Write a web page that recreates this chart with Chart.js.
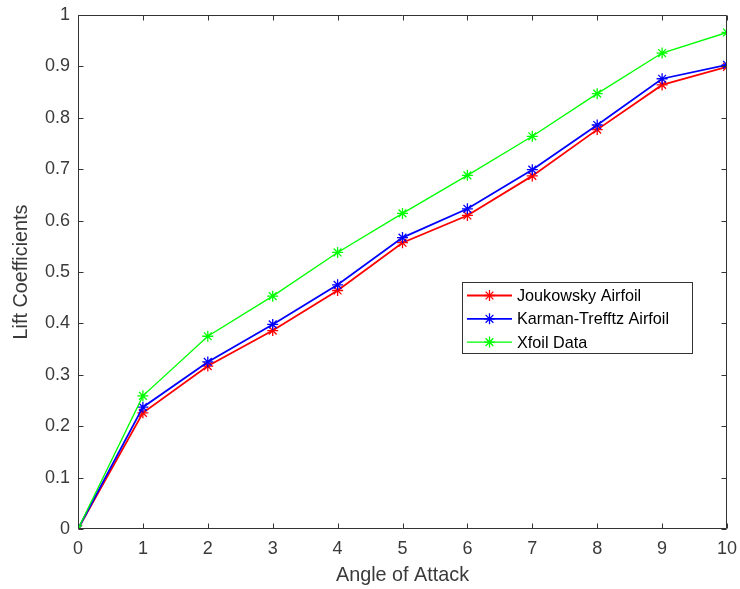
<!DOCTYPE html>
<html>
<head>
<meta charset="utf-8">
<script src="https://cdn.jsdelivr.net/npm/chart.js@4.4.1/dist/chart.umd.min.js"></script>
<style>
  html, body { margin: 0; padding: 0; background: #ffffff; }
  #wrap { width: 740px; height: 589px; position: relative; }
</style>
</head>
<body>
<div id="wrap"><canvas id="chart" width="740" height="589"></canvas></div>
<script>
// Angle of attack (degrees) and lift coefficients for each method
const angles = [0, 1, 2, 3, 4, 5, 6, 7, 8, 9, 10];
const joukowsky = [0, 0.226, 0.317, 0.386, 0.464, 0.557, 0.610, 0.687, 0.777, 0.864, 0.899];
const karmanTrefftz = [0, 0.237, 0.325, 0.398, 0.475, 0.567, 0.623, 0.699, 0.786, 0.876, 0.903];
const xfoil = [0, 0.259, 0.375, 0.453, 0.538, 0.614, 0.688, 0.764, 0.847, 0.926, 0.966];

const seriesNames = ['Joukowsky Airfoil', 'Karman-Trefftz Airfoil', 'Xfoil Data'];
const seriesColors = ['#ff0000', '#0000ff', '#00ff00'];
const xTickStep = 1;
const yTickStep = 0.1;

const FONT = "'Liberation Sans', Arial, Helvetica, sans-serif";
const AXIS_COLOR = '#333333';

function toPoints(ys) {
  return angles.map((a, i) => ({ x: a, y: ys[i] }));
}

// Box around the axes with inward tick marks on all four sides
const axesBox = {
  id: 'axesBox',
  afterDatasetsDraw(chart) {
    const { ctx, chartArea: a, scales } = chart;
    ctx.save();
    ctx.strokeStyle = AXIS_COLOR;
    ctx.lineWidth = 1;
    const L = Math.round(a.left) + 0.5, R = Math.round(a.right) - 0.5;
    const T = Math.round(a.top) + 0.5, B = Math.round(a.bottom) - 0.5;
    ctx.beginPath();
    ctx.rect(L, T, R - L, B - T);
    const len = 5;
    scales.x.ticks.forEach(t => {
      const px = Math.round(scales.x.getPixelForValue(t.value)) + 0.5;
      ctx.moveTo(px, B); ctx.lineTo(px, B - len);
      ctx.moveTo(px, T); ctx.lineTo(px, T + len);
    });
    scales.y.ticks.forEach(t => {
      const py = Math.round(scales.y.getPixelForValue(t.value)) + 0.5;
      ctx.moveTo(L, py); ctx.lineTo(L + len, py);
      ctx.moveTo(R, py); ctx.lineTo(R - len, py);
    });
    ctx.stroke();
    ctx.restore();
  }
};

// Legend box inside the plot, listing each series with its line and marker
const boxLegend = {
  id: 'boxLegend',
  afterDraw(chart) {
    const { ctx } = chart;
    const x0 = 462, y0 = 282, w = 230, h = 71;
    ctx.save();
    ctx.fillStyle = '#ffffff';
    ctx.fillRect(x0, y0, w, h);
    ctx.strokeStyle = AXIS_COLOR;
    ctx.lineWidth = 1;
    ctx.strokeRect(x0 + 0.5, y0 + 0.5, w, h);
    ctx.font = '16.2px ' + FONT;
    ctx.textBaseline = 'middle';
    ctx.textAlign = 'left';
    const rowH = 23.3;
    seriesNames.forEach((name, i) => {
      const cy = y0 + 13.5 + i * rowH;
      const ds = chart.data.datasets.find(d => d.label === name);
      ctx.strokeStyle = ds.borderColor;
      ctx.lineWidth = ds.borderWidth;
      ctx.beginPath();
      ctx.moveTo(x0 + 5, cy); ctx.lineTo(x0 + 50, cy);
      ctx.stroke();
      ctx.lineWidth = ds.pointBorderWidth;
      Chart.helpers.drawPoint(ctx, { pointStyle: 'star', radius: ds.pointRadius, borderWidth: ds.pointBorderWidth }, x0 + 27.5, cy);
      ctx.fillStyle = '#000000';
      ctx.fillText(name, x0 + 55, cy + 1);
    });
    ctx.restore();
  }
};

const datasets = [joukowsky, karmanTrefftz, xfoil].map((vals, i) => ({
  label: seriesNames[i],
  data: toPoints(vals),
  borderColor: seriesColors[i],
  backgroundColor: seriesColors[i],
  pointBorderColor: seriesColors[i],
  borderWidth: i === 2 ? 1.3 : 1.8,
  pointStyle: 'star',
  pointRadius: 5.5,
  pointBorderWidth: 1.3,
  pointHoverRadius: 5.5,
  tension: 0,
  fill: false,
  order: 2 - i
}));

new Chart(document.getElementById('chart'), {
  type: 'line',
  data: { datasets },
  options: {
    responsive: false,
    animation: false,
    events: [],
    layout: { padding: { left: 0, right: 13, top: 15, bottom: 0 } },
    plugins: {
      legend: { display: false },
      tooltip: { enabled: false }
    },
    scales: {
      x: {
        type: 'linear',
        min: 0,
        max: 10,
        afterFit(scale) {
          scale.height = 60;
          scale.paddingLeft = 0;
          scale.paddingRight = 0;
        },
        ticks: {
          stepSize: xTickStep,
          color: '#3a3a3a',
          font: { family: FONT, size: 18 },
          padding: 9,
          maxRotation: 0
        },
        grid: { display: true, drawOnChartArea: false, drawTicks: false },
        border: { display: false },
        title: {
          display: true,
          text: 'Angle of Attack',
          color: '#3a3a3a',
          font: { family: FONT, size: 19.8 },
          padding: { top: 0, bottom: 2 }
        }
      },
      y: {
        type: 'linear',
        min: 0,
        max: 1,
        afterFit(scale) {
          scale.width = 78;
          scale.paddingTop = 0;
          scale.paddingBottom = 0;
        },
        ticks: {
          stepSize: yTickStep,
          color: '#3a3a3a',
          font: { family: FONT, size: 18 },
          padding: 8,
          callback: v => String(Number(v.toFixed(1)))
        },
        grid: { display: true, drawOnChartArea: false, drawTicks: false },
        border: { display: false },
        title: {
          display: true,
          text: 'Lift Coefficients',
          color: '#3a3a3a',
          font: { family: FONT, size: 19.8 },
          padding: { top: 10, bottom: 0 }
        }
      }
    }
  },
  plugins: [axesBox, boxLegend]
});
</script>
</body>
</html>
